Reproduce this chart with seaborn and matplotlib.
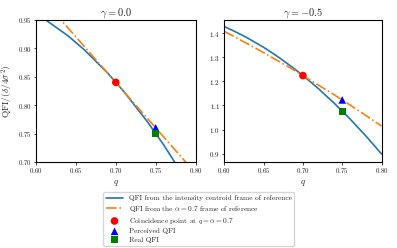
import numpy as np
import pandas as pd
import seaborn as sns
import matplotlib
matplotlib.use("Agg")
import matplotlib.pyplot as plt

# values
q = [0.60, 0.61, 0.62, 0.63, 0.64, 0.65, 0.66, 0.67, 0.68, 0.69, 0.70,
     0.71, 0.72, 0.73, 0.74, 0.75, 0.76, 0.77, 0.78, 0.79, 0.80]

# gamma = 0.0
centroid_g0 = [0.960, 0.952, 0.942, 0.932, 0.922, 0.910, 0.898, 0.884, 0.870, 0.856, 0.840,
               0.824, 0.806, 0.788, 0.770, 0.750, 0.730, 0.708, 0.686, 0.664, 0.640]
alpha_g0 = [1.000, 0.984, 0.968, 0.952, 0.936, 0.920, 0.904, 0.888, 0.872, 0.856, 0.840,
            0.824, 0.808, 0.792, 0.776, 0.760, 0.744, 0.728, 0.712, 0.696, 0.680]
coinc_g0 = (0.70, 0.840)
perceived_g0 = (0.75, 0.760)
real_g0 = (0.75, 0.750)

# gamma = -0.5
centroid_g5 = [1.427, 1.412, 1.396, 1.379, 1.360, 1.341, 1.320, 1.298, 1.274, 1.250, 1.224,
               1.197, 1.169, 1.139, 1.109, 1.076, 1.044, 1.009, 0.974, 0.937, 0.899]
alpha_g5 = [1.407, 1.390, 1.372, 1.355, 1.337, 1.319, 1.300, 1.282, 1.263, 1.244, 1.224,
            1.204, 1.184, 1.164, 1.144, 1.123, 1.102, 1.080, 1.059, 1.037, 1.015]
coinc_g5 = (0.70, 1.224)
perceived_g5 = (0.75, 1.123)
real_g5 = (0.75, 1.074)

titles = [r"$\gamma = 0.0$", r"$\gamma = -0.5$"]
ylims = [(0.70, 0.95), (0.866, 1.455)]

labels = ["QFI from the intensity centroid frame of reference",
          r"QFI from the $\alpha = 0.7$ frame of reference",
          r"Coincidence point at $q = \alpha = 0.7$",
          "Perceived QFI",
          "Real QFI"]

sns.set_theme(style="ticks")
plt.rcParams["font.family"] = "serif"
plt.rcParams["font.serif"] = ["cmr10", "DejaVu Serif"]
plt.rcParams["mathtext.fontset"] = "cm"
plt.rcParams["axes.formatter.use_mathtext"] = True
plt.rcParams["axes.unicode_minus"] = False

blue = "#1f77b4"
orange = "#ff7f0e"

fig = plt.figure(figsize=(3.97, 2.48), dpi=100)
ax1 = fig.add_axes([0.0907, 0.347, 0.402, 0.573])
ax2 = fig.add_axes([0.565, 0.347, 0.396, 0.573])

panels = [
    (ax1, centroid_g0, alpha_g0, coinc_g0, perceived_g0, real_g0),
    (ax2, centroid_g5, alpha_g5, coinc_g5, perceived_g5, real_g5),
]

for i, (ax, cen, alp, co, pe, re) in enumerate(panels):
    df = pd.DataFrame({"q": q, "centroid": cen, "alpha": alp})
    sns.lineplot(data=df, x="q", y="centroid", ax=ax, color=blue, lw=1.2, label=labels[0])
    sns.lineplot(data=df, x="q", y="alpha", ax=ax, color=orange, lw=1.2, ls="-.", label=labels[1])
    sns.scatterplot(x=[co[0]], y=[co[1]], ax=ax, color="red", marker="o", s=30,
                    edgecolor="none", label=labels[2], zorder=3)
    sns.scatterplot(x=[pe[0]], y=[pe[1]], ax=ax, color="blue", marker="^", s=30,
                    edgecolor="none", label=labels[3], zorder=3)
    sns.scatterplot(x=[re[0]], y=[re[1]], ax=ax, color="green", marker="s", s=28,
                    edgecolor="none", label=labels[4], zorder=3)
    ax.set_xlim(0.60, 0.80)
    ax.set_ylim(*ylims[i])
    ax.set_xticks([0.60, 0.65, 0.70, 0.75, 0.80])
    ax.set_title(titles[i], fontsize=7.5, pad=3)
    ax.set_xlabel(r"$q$", fontsize=6.5, labelpad=2)
    ax.tick_params(labelsize=5, length=1.8, width=0.6, pad=1.3)
    for sp in ax.spines.values():
        sp.set_linewidth(0.8)
        sp.set_color("black")
    ax.get_legend().remove()

ax1.set_ylabel(r"QFI$/(\delta/4\sigma^2)$", fontsize=6.8, va="center")
ax1.yaxis.set_label_coords(-0.18, 0.5)
ax2.set_ylabel("")
ax2.set_yticks([0.9, 1.0, 1.1, 1.2, 1.3, 1.4])

handles, labs = ax1.get_legend_handles_labels()
fig.legend(handles, labs, loc="center", bbox_to_anchor=(0.501, 0.117),
           fontsize=5.3, frameon=True, handlelength=2.2, labelspacing=0.3,
           borderpad=0.4, handletextpad=0.8, edgecolor="0.8", fancybox=True)

fig.savefig("out.png", dpi=100)
